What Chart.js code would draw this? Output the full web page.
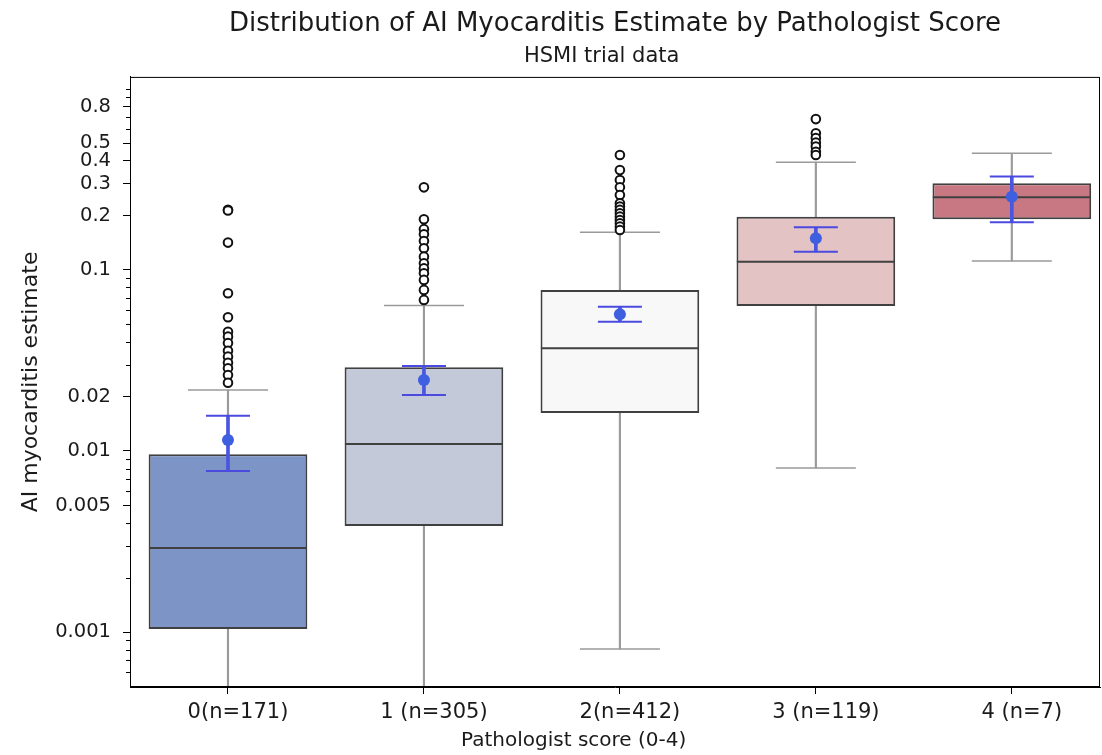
<!DOCTYPE html>
<html>
<head>
<meta charset="utf-8">
<script src="https://cdn.jsdelivr.net/npm/chart.js@4.4.1/dist/chart.umd.min.js"></script>
<style>
  html, body { margin: 0; padding: 0; background: #fff; }
  #wrap { width: 1102px; height: 755px; }
</style>
</head>
<body>
<div id="wrap"><canvas id="c" width="1102" height="755"></canvas></div>
<script>
// ---------- data ----------
const categories = ['0(n=171)', '1 (n=305)', '2(n=412)', '3 (n=119)', '4 (n=7)'];
const q1Values = [0.00104, 0.00385, 0.0162, 0.0632, 0.1905];
const medianValues = [0.00291, 0.01094, 0.0369, 0.111, 0.252];
const q3Values = [0.0096, 0.029, 0.0776, 0.197, 0.301];
const whiskerLow = [0.0003, 0.0003, 0.000806, 0.00805, 0.112];
const whiskerHigh = [0.0217, 0.0636, 0.1615, 0.3936, 0.4413];
const meanValues = [0.0115, 0.0247, 0.0569, 0.1496, 0.254];
const meanLow = [0.00776, 0.0204, 0.0518, 0.126, 0.1835];
const meanHigh = [0.01567, 0.0295, 0.0626, 0.172, 0.328];
const outliers0 = [0.215, 0.213, 0.1416, 0.0743, 0.0548, 0.0456, 0.0428, 0.0395, 0.0358, 0.0332, 0.0307, 0.0286, 0.0263, 0.0238];
const outliers1 = [0.286, 0.1905, 0.168, 0.1575, 0.1446, 0.1318, 0.1184, 0.1089, 0.102, 0.0959, 0.0881, 0.0776, 0.0683];
const outliers2 = [0.4315, 0.356, 0.314, 0.286, 0.2596, 0.2337, 0.224, 0.2146, 0.2056, 0.197, 0.1888, 0.181, 0.1735, 0.1663];
const outliers3 = [0.681, 0.569, 0.535, 0.505, 0.480, 0.450, 0.4315];
const outliers4 = [];
const yTickValues = [0.001, 0.005, 0.01, 0.02, 0.1, 0.2, 0.3, 0.4, 0.5, 0.8];
const yTickLabels = ['0.001', '0.005', '0.01', '0.02', '0.1', '0.2', '0.3', '0.4', '0.5', '0.8'];
const yMinorTicks = [0.0006, 0.0007, 0.0008, 0.0009, 0.002, 0.003, 0.004, 0.006, 0.007, 0.008, 0.009,
                     0.03, 0.04, 0.05, 0.06, 0.07, 0.08, 0.09, 0.6, 0.7, 0.9, 1.0];
const boxColors = ['#7d95c6', '#c3c9d8', '#f8f8f8', '#e3c3c3', '#c87883'];

// ---------- build ----------
const idx = categories.map((_, i) => i);
const allOutliers = [outliers0, outliers1, outliers2, outliers3, outliers4];
const outlierPts = [];
allOutliers.forEach((arr, i) => arr.forEach(v => outlierPts.push({ x: i, y: v })));

const FONT = "'DejaVu Sans', sans-serif";
const TXT = '#1a1a1a';

const framePlugin = {
  id: 'frame',
  afterDatasetsDraw(chart) {
    const { ctx, chartArea: a, scales: { y } } = chart;
    ctx.save();
    ctx.strokeStyle = '#000';
    ctx.lineWidth = 1;
    ctx.strokeRect(a.left + 0.5, a.top + 0.5, a.right - a.left - 1, a.bottom - a.top - 1);
    ctx.beginPath();
    yMinorTicks.forEach(v => {
      const py = Math.round(y.getPixelForValue(v)) + 0.5;
      if (py < a.top || py > a.bottom) return;
      ctx.moveTo(a.left - 4, py);
      ctx.lineTo(a.left, py);
    });
    ctx.stroke();
    ctx.restore();
  }
};

new Chart(document.getElementById('c'), {
  type: 'bar',
  data: {
    datasets: [
      { // whiskers (upper)
        type: 'bar', label: 'wh', order: 20, grouped: false,
        data: idx.map(i => ({ x: i, y: [q3Values[i], whiskerHigh[i]] })),
        backgroundColor: '#9a9a9a', barThickness: 1.5, borderWidth: 0
      },
      { // whiskers (lower)
        type: 'bar', label: 'wl', order: 20, grouped: false,
        data: idx.map(i => ({ x: i, y: [whiskerLow[i], q1Values[i]] })),
        backgroundColor: '#9a9a9a', barThickness: 1.5, borderWidth: 0
      },
      { // whisker caps
        type: 'scatter', label: 'caps', order: 19, showLine: false,
        data: idx.flatMap(i => [{ x: i, y: whiskerHigh[i] }, { x: i, y: whiskerLow[i] }]),
        pointStyle: 'line', pointRadius: 40, borderColor: '#9a9a9a', borderWidth: 1.5
      },
      { // boxes
        type: 'bar', label: 'box', order: 15, grouped: false,
        data: idx.map(i => ({ x: i, y: [q1Values[i], q3Values[i]] })),
        backgroundColor: boxColors, borderColor: '#404040', borderWidth: 2,
        borderSkipped: false, barPercentage: 0.81, categoryPercentage: 1
      },
      { // medians
        type: 'scatter', label: 'median', order: 14, showLine: false,
        data: idx.map(i => ({ x: i, y: medianValues[i] })),
        pointStyle: 'line', pointRadius: 79, borderColor: '#404040', borderWidth: 2
      },
      { // outliers
        type: 'scatter', label: 'outliers', order: 12, showLine: false,
        data: outlierPts,
        pointStyle: 'circle', pointRadius: 4.3, backgroundColor: '#ffffff',
        borderColor: '#111111', borderWidth: 2
      },
      { // mean error bar
        type: 'bar', label: 'err', order: 8, grouped: false,
        data: idx.map(i => ({ x: i, y: [meanLow[i], meanHigh[i]] })),
        backgroundColor: '#4a55e0', barThickness: 3, borderWidth: 0
      },
      { // mean error caps
        type: 'scatter', label: 'errcaps', order: 7, showLine: false,
        data: idx.flatMap(i => [{ x: i, y: meanLow[i] }, { x: i, y: meanHigh[i] }]),
        pointStyle: 'line', pointRadius: 22, borderColor: '#4a4adf', borderWidth: 2
      },
      { // means
        type: 'scatter', label: 'mean', order: 6, showLine: false,
        data: idx.map(i => ({ x: i, y: meanValues[i] })),
        pointStyle: 'circle', pointRadius: 6, backgroundColor: '#3d5fe0', borderWidth: 0
      }
    ]
  },
  options: {
    responsive: false,
    animation: false,
    layout: { autoPadding: false, padding: { left: 0, right: 2, top: 0, bottom: 0 } },
    plugins: {
      legend: { display: false },
      tooltip: { enabled: false },
      title: {
        display: true, fullSize: false,
        text: 'Distribution of AI Myocarditis Estimate by Pathologist Score',
        color: TXT, font: { family: FONT, size: 26, weight: 'normal' },
        padding: { top: 9, bottom: 4 }
      },
      subtitle: {
        display: true, fullSize: false, text: 'HSMI trial data    ',
        color: TXT, font: { family: FONT, size: 21, weight: 'normal' },
        padding: { top: 0, bottom: 7.5 }
      }
    },
    scales: {
      x: {
        type: 'linear', min: -0.5, max: 4.45, offset: false,
        afterBuildTicks: s => { s.ticks = idx.map(i => ({ value: i })); },
        afterFit: s => { s.height = 68; },
        ticks: {
          autoSkip: false, maxRotation: 0, padding: 6, labelOffset: 10,
          color: TXT, font: { family: FONT, size: 21 },
          callback: (v, i) => categories[i]
        },
        grid: { offset: false, drawOnChartArea: false, drawTicks: true, tickLength: 7, color: '#000', tickWidth: 1 },
        border: { display: true, color: '#000', width: 1 },
        title: {
          display: true, text: 'Pathologist score (0-4)             ', color: TXT,
          font: { family: FONT, size: 20 }, padding: { top: 1, bottom: 2 }
        }
      },
      y: {
        type: 'logarithmic', min: 0.000497, max: 1.165,
        afterBuildTicks: s => { s.ticks = yTickValues.map(v => ({ value: v })); },
        afterFit: s => { s.width = 130; },
        ticks: {
          autoSkip: false, padding: 12,
          color: TXT, font: { family: FONT, size: 19.5 },
          callback: (v, i) => yTickLabels[i]
        },
        grid: { drawOnChartArea: false, drawTicks: true, tickLength: 7, color: '#000', tickWidth: 1 },
        border: { display: true, color: '#000', width: 1 },
        title: {
          display: true, text: 'AI myocarditis estimate', color: TXT,
          font: { family: FONT, size: 22 }, padding: { top: 18, bottom: 2 }
        }
      }
    }
  },
  plugins: [framePlugin]
});
</script>
</body>
</html>
